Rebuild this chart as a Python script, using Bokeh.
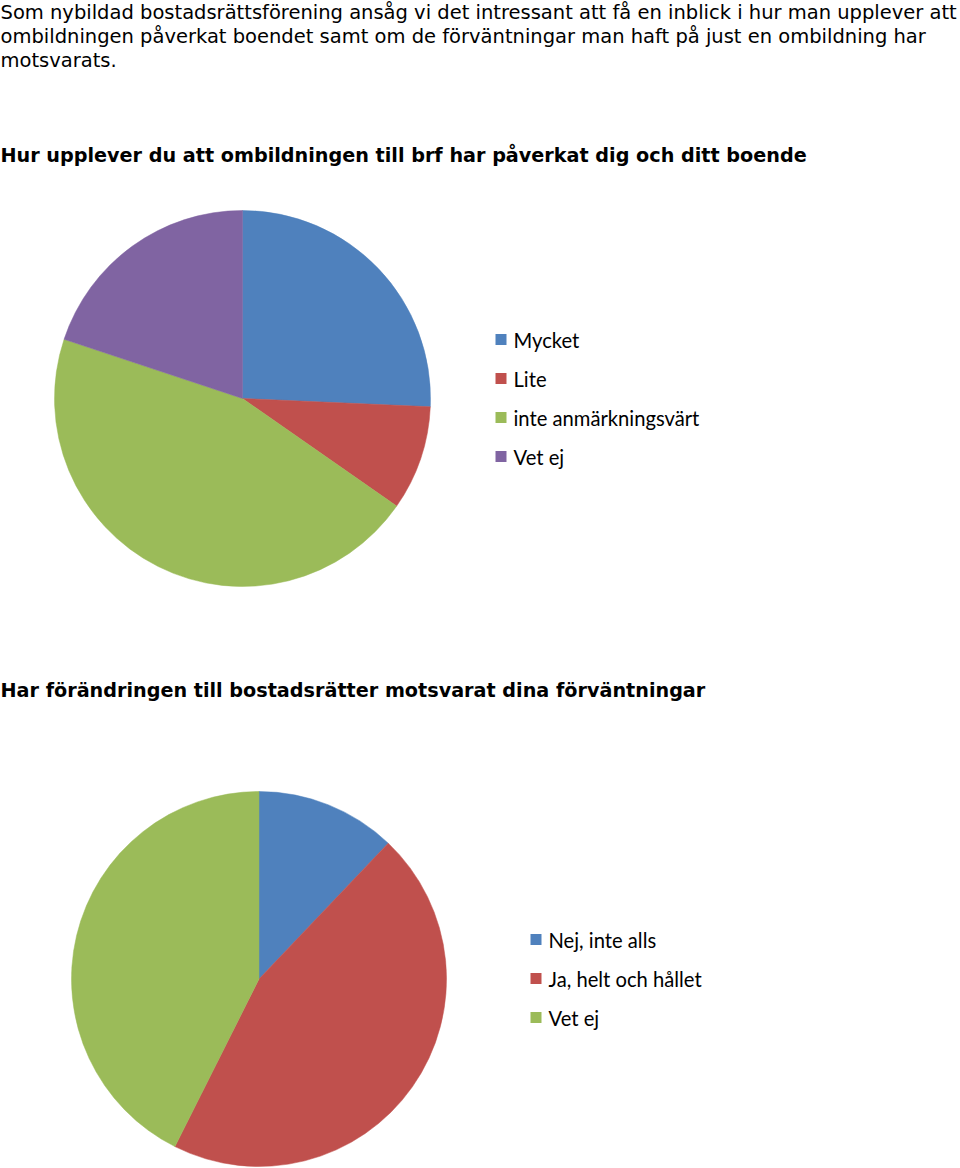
import math
from bokeh.plotting import figure
from bokeh.models import Range1d, ColumnDataSource
from bokeh.core.properties import value
from bokeh.embed import file_html
from bokeh.resources import INLINE

W, H = 960, 1168

intro_lines = [
    "Som nybildad bostadsrättsförening ansåg vi det intressant att få en inblick i hur man upplever att",
    "ombildningen påverkat boendet samt om de förväntningar man haft på just en ombildning har",
    "motsvarats.",
]

title1 = "Hur upplever du att ombildningen till brf har påverkat dig och ditt boende"
cats1 = ["Mycket", "Lite", "inte anmärkningsvärt", "Vet ej"]
vals1 = [25.7, 9.0, 45.4, 19.9]
cols1 = ["#4F81BD", "#C0504D", "#9BBB59", "#8064A2"]

title2 = "Har förändringen till bostadsrätter motsvarat dina förväntningar"
cats2 = ["Nej, inte alls", "Ja, helt och hållet", "Vet ej"]
vals2 = [12.1, 45.3, 42.6]
cols2 = ["#4F81BD", "#C0504D", "#9BBB59"]

p = figure(width=W, height=H, x_range=Range1d(0, W), y_range=Range1d(0, H),
           output_backend="svg", toolbar_location=None, min_border=0)
p.axis.visible = False
p.grid.visible = False
p.outline_line_color = None
p.background_fill_color = "white"
p.border_fill_color = "white"


def Y(ypix):
    return H - ypix


# intro text
p.text(x=[0] * len(intro_lines), y=[Y(12), Y(36), Y(60)], text=intro_lines,
       text_font=value("DejaVu Sans"), text_font_size="19.5px", text_color="#000000",
       text_baseline="middle", text_align="left")


def pie(title, title_y, cats, vals, cols, cx, cy, r, lx, ly0, ldy):
    p.text(x=[0], y=[Y(title_y)], text=[title], text_font=value("DejaVu Sans"),
           text_font_size="19.2px", text_font_style="bold", text_color="#000000",
           text_baseline="middle", text_align="left")
    total = float(sum(vals))
    starts, ends = [], []
    cum = 0.0
    for v in vals:
        starts.append(math.pi / 2 - 2 * math.pi * cum / total)
        cum += v
        ends.append(math.pi / 2 - 2 * math.pi * cum / total)
    src = ColumnDataSource(dict(x=[cx] * len(vals), y=[Y(cy)] * len(vals),
                                s=starts, e=ends, c=cols))
    p.wedge(x="x", y="y", radius=r, start_angle="s", end_angle="e", direction="clock",
            fill_color="c", line_color="c", line_width=0.5, source=src)
    ly = [Y(ly0 + i * ldy) for i in range(len(cats))]
    p.scatter(x=[lx + 5.5] * len(cats), y=ly, marker="square", size=11,
              fill_color=cols, line_color=None)
    p.text(x=[lx + 18] * len(cats), y=ly, text=cats, text_font=value("Lato"),
           text_font_size="20.2px", text_color="#000000", text_baseline="middle",
           text_align="left")


pie(title1, 155, cats1, vals1, cols1, 242, 398, 188, 495, 339, 39)
pie(title2, 690, cats2, vals2, cols2, 258.5, 978.5, 187.5, 530, 939, 39)

open("out.html", "w").write(file_html(p, INLINE))
